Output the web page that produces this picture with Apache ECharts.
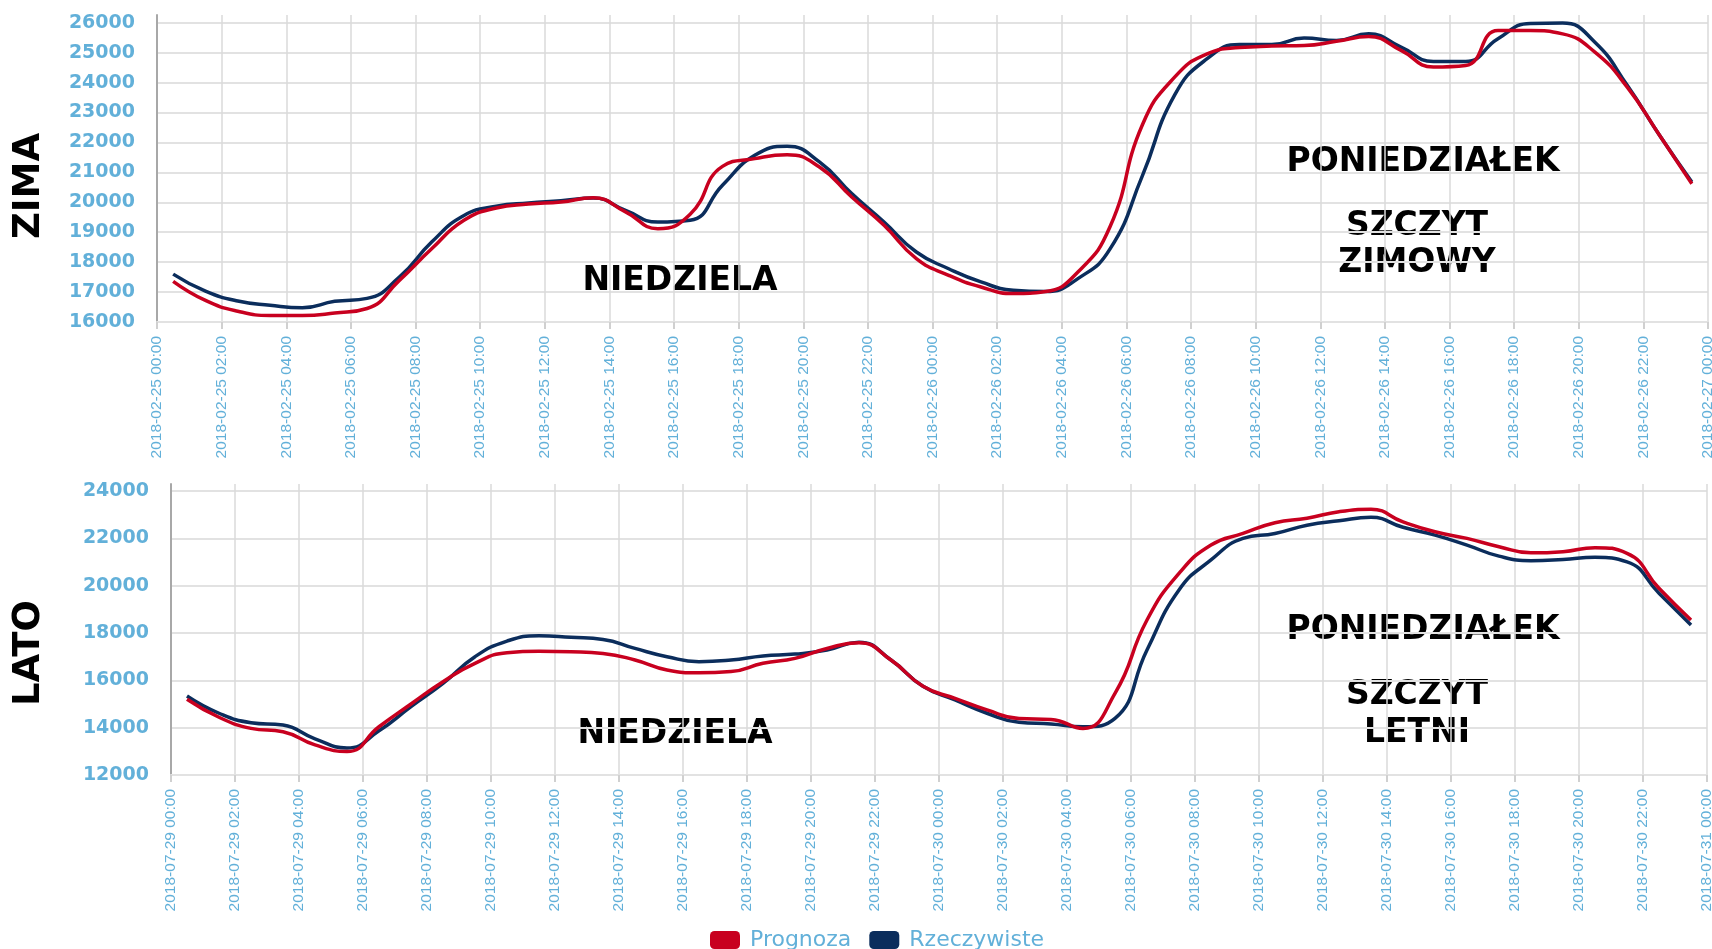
<!DOCTYPE html>
<html>
<head>
<meta charset="utf-8">
<title>Prognoza zapotrzebowania - zima / lato</title>
<script src="https://cdn.jsdelivr.net/npm/echarts@6.0.0/dist/echarts.min.js"></script>
<style>
  html, body { margin: 0; padding: 0; background: #fff; }
  #chart { width: 1712px; height: 949px; }
</style>
</head>
<body>
<div id="chart"></div>
<script>
// dni na osi x (etykiety co 2h)
const zimaDays = ['2018-02-25', '2018-02-26', '2018-02-27']
const latoDays = ['2018-07-29', '2018-07-30', '2018-07-31']

// wartosci godzinowe (srodek godziny: 00:30, 01:30, ...)
const zimaPrognoza = [
  17360, 16720, 16360, 16220, 16220, 16300, 16450, 17390, 18450, 19400, 19810, 19940,
  20010, 20150, 19680, 19120, 19600, 21200, 21460, 21590, 21180, 20180, 19230, 18120,
  17560, 17170, 16950, 17020, 17670, 19200, 22600, 24190, 24960, 25170, 25220, 25240,
  25380, 25540, 25080, 24520, 24570, 25740, 25740, 25630, 25020, 23850, 22240, 20620
]
const zimaRzeczywiste = [
  17600, 17030, 16700, 16560, 16480, 16690, 16790, 17500, 18670, 19560, 19870, 19980,
  20050, 20140, 19730, 19340, 19400, 20570, 21570, 21870, 21350, 20290, 19340, 18340,
  17780, 17340, 17060, 17020, 17450, 18450, 20900, 23600, 24800, 25270, 25270, 25490,
  25410, 25630, 25190, 24710, 24710, 25470, 25980, 25990, 25350, 23910, 22240, 20680
]
const latoPrognoza = [
  15200, 14440, 13970, 13830, 13270, 12990, 14040, 15000, 15940, 16720, 17170, 17230,
  17210, 17140, 16860, 16440, 16320, 16370, 16720, 16930, 17350, 17590, 16860, 15750,
  15240, 14750, 14390, 14350, 13970, 15450, 18550, 20520, 21720, 22210, 22660, 22850,
  23130, 23230, 22700, 22280, 22000, 21650, 21390, 21440, 21610, 21370, 19890, 18550
]
const latoRzeczywiste = [
  15340, 14610, 14210, 14110, 13530, 13140, 13870, 14890, 15870, 17000, 17660, 17890,
  17820, 17730, 17350, 17000, 16790, 16860, 17030, 17110, 17280, 17610, 16860, 15750,
  15170, 14610, 14230, 14160, 14040, 14390, 17280, 19820, 21090, 22000, 22210, 22560,
  22750, 22890, 22470, 22140, 21720, 21250, 21060, 21110, 21200, 21010, 19680, 18340
]

const colors = {
  red: '#c8001f',
  navy: '#0b2d5c',
  label: '#62b0d9',
  grid: '#e2e2e2',
  axis: '#a8a8a8'
}

const chart = echarts.init(document.getElementById('chart'), null, { renderer: 'canvas' })

const toPoints = vals => vals.map((v, i) => [i + 0.5, v])
const pad = n => (n < 10 ? '0' : '') + n

const xAxis = (gridIndex, days) => ({
  type: 'value',
  gridIndex,
  min: 0,
  max: 48,
  interval: 2,
  axisLine: { show: true, lineStyle: { color: colors.grid, width: 2 } },
  axisTick: { show: true, length: 7, lineStyle: { color: '#d0d0d0', width: 2 } },
  splitLine: { show: true, lineStyle: { color: '#dadada', width: 1.5 } },
  axisLabel: {
    rotate: 90,
    margin: 14,
    color: colors.label,
    fontFamily: 'Liberation Sans',
    fontSize: 15.5,
    formatter: v => days[Math.floor(v / 24)] + ' ' + pad(v % 24) + ':00'
  }
})

const yAxis = (gridIndex, min, max, interval, count) => ({
  type: 'value',
  gridIndex,
  min,
  max,
  interval,
  axisLine: { show: true, lineStyle: { color: colors.axis, width: 2 } },
  axisTick: { show: false },
  // ostatnia linia (max osi) ma byc niewidoczna
  splitLine: {
    show: true,
    lineStyle: { width: 2, color: Array(count).fill(colors.grid).concat(['rgba(0,0,0,0)']) }
  },
  axisLabel: {
    showMaxLabel: false,
    margin: 22,
    color: colors.label,
    fontFamily: 'DejaVu Sans',
    fontWeight: 'bold',
    fontSize: 19,
    formatter: v => String(v)
  }
})

const lineSeries = (name, color, axisIndex, vals) => ({
  name,
  type: 'line',
  xAxisIndex: axisIndex,
  yAxisIndex: axisIndex,
  data: toPoints(vals),
  smooth: true,
  symbol: 'none',
  lineStyle: { width: 3.5, color },
  itemStyle: { color }
})

const bigText = (text, x, y, size, rotation) => ({
  type: 'text',
  x,
  y,
  rotation: rotation || 0,
  style: {
    text,
    fill: '#000',
    font: 'bold ' + size + 'px "DejaVu Sans"',
    textAlign: 'center',
    textVerticalAlign: 'middle'
  }
})

const option = {
  animation: false,
  backgroundColor: '#fff',
  grid: [
    { left: 157, top: 15, width: 1551, height: 307, containLabel: false, outerBoundsMode: 'none' },
    { left: 171, top: 484, width: 1536, height: 291, containLabel: false, outerBoundsMode: 'none' }
  ],
  xAxis: [xAxis(0, zimaDays), xAxis(1, latoDays)],
  yAxis: [yAxis(0, 16000, 26260, 1000, 11), yAxis(1, 12000, 24300, 2000, 7)],
  legend: {
    data: ['Prognoza', 'Rzeczywiste'],
    left: 710,
    top: 929,
    padding: 0,
    icon: 'roundRect',
    itemWidth: 30,
    itemHeight: 18,
    itemGap: 18,
    textStyle: {
      color: colors.label,
      fontFamily: 'DejaVu Sans',
      fontSize: 22,
      padding: [0, 0, 0, 5]
    }
  },
  series: [
    lineSeries('Rzeczywiste', colors.navy, 0, zimaRzeczywiste),
    lineSeries('Prognoza', colors.red, 0, zimaPrognoza),
    lineSeries('Rzeczywiste', colors.navy, 1, latoRzeczywiste),
    lineSeries('Prognoza', colors.red, 1, latoPrognoza)
  ],
  graphic: [
    bigText('ZIMA', 29, 186, 37, Math.PI / 2),
    bigText('LATO', 29, 653, 37, Math.PI / 2),
    bigText('NIEDZIELA', 680, 281, 33),
    bigText('PONIEDZIAŁEK', 1423, 162, 33),
    bigText('SZCZYT', 1417, 226, 33),
    bigText('ZIMOWY', 1417, 263, 33),
    bigText('NIEDZIELA', 675, 734, 33),
    bigText('PONIEDZIAŁEK', 1423, 630, 33),
    bigText('SZCZYT', 1417, 695, 33),
    bigText('LETNI', 1417, 733, 33)
  ]
}

chart.setOption(option)
window.addEventListener('resize', () => chart.resize())
</script>
</body>
</html>
